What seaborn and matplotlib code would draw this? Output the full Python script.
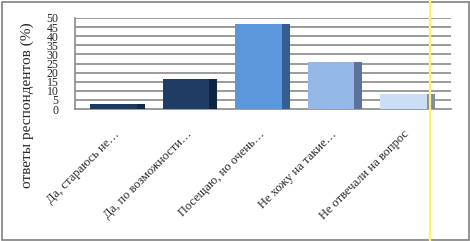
import numpy as np
import pandas as pd
import matplotlib
matplotlib.use("Agg")
import matplotlib.pyplot as plt
import seaborn as sns
from matplotlib.lines import Line2D
from matplotlib.patches import Rectangle

categories = ["Да, стараюсь не…", "Да, по возможности…", "Посещаю, но очень…",
              "Не хожу на такие…", "Не отвечали на вопрос"]
values = [3, 16.5, 46.5, 26, 8]
front_colors = ["#1f3a5f", "#1f3d64", "#5b97da", "#94b8e8", "#cbdef6"]
side_colors = ["#112a47", "#0e2442", "#345e90", "#5b7399", "#7e8da0"]
y_ticks = list(range(0, 55, 5))
y_label = "ответы респондентов (%)"

sns.set_theme(style="white")
plt.rcParams["font.family"] = ["Liberation Serif", "DejaVu Serif"]

fig = plt.figure(figsize=(4.70, 2.41), dpi=100)
ax = fig.add_axes([75/470, 1-109/241, (451-75)/470, (109-18)/241])

df = pd.DataFrame({"cat": categories, "val": values})
front_w = 0.648
side_w = 0.11
sns.barplot(data=df, x="cat", y="val", hue="cat", palette=front_colors,
            width=front_w, legend=False, ax=ax, saturation=1, zorder=3,
            linewidth=0, edgecolor="none")
xs = np.arange(len(categories))
ax.bar(xs + front_w/2, values, width=side_w, align="edge", color=side_colors,
       zorder=3, linewidth=0)

ax.set_xlim(-0.531, 4.655)
ax.set_ylim(0, 50)
ax.set_yticks(y_ticks)
ax.set_yticklabels([str(t) for t in y_ticks], fontsize=8.5)
ax.tick_params(axis="y", length=0, pad=12)
ax.tick_params(axis="x", length=0, pad=14)
ax.set_xticks(xs)
ax.set_xticklabels(categories, rotation=45, ha="right", rotation_mode="anchor",
                   fontsize=9)
ax.set_xlabel("")
ax.set_ylabel("")
for t in y_ticks[1:]:
    ax.axhline(t, color="#8a8a8a", lw=1.2, zorder=1)
for s in ["top", "right"]:
    ax.spines[s].set_visible(False)
for s in ["left", "bottom"]:
    ax.spines[s].set_color("#8a8a8a")
    ax.spines[s].set_linewidth(1.2)

fig.text(27/470, 1-105/241, y_label, rotation=90, ha="center", va="center",
         fontsize=11)

fig.patches.append(Rectangle((1.5/470, 1/241), 467/470, 238.5/241,
                             transform=fig.transFigure, fill=False,
                             edgecolor="#808080", lw=1.2))
fig.lines.append(Line2D([430/470, 430/470], [0, 1], transform=fig.transFigure,
                        color="#fff26a", lw=1.6))

fig.savefig("out.png", dpi=100, facecolor="white")
